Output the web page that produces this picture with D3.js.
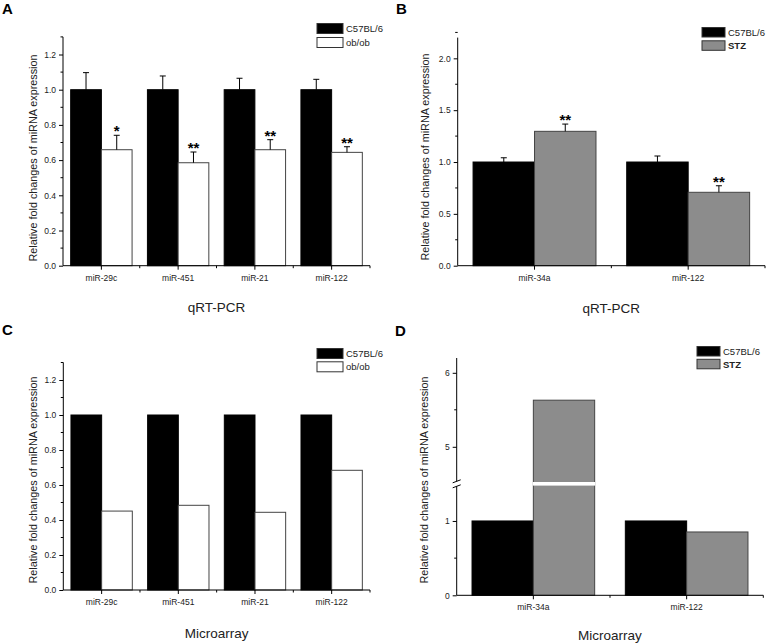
<!DOCTYPE html>
<html lang="en">
<head>
<meta charset="UTF-8">
<title>miRNA expression</title>
<script src="https://d3js.org/d3.v7.min.js"></script>
<style>
  body { margin: 0; background: #fff; }
  svg text { font-family: "Liberation Sans", Arial, sans-serif; fill: #222; }
</style>
</head>
<body>
<script>
// panel A / C : ob/ob vs C57BL/6
const catsAC = ["miR-29c", "miR-451", "miR-21", "miR-122"];
const ctrlA = [1, 1, 1, 1];
const ctrlErrA = [0.097, 0.078, 0.065, 0.059];
const obA = [0.659, 0.585, 0.659, 0.644];
const obErrA = [0.082, 0.061, 0.057, 0.032];
const starsA = ["*", "**", "**", "**"];
const ctrlC = [1, 1, 1, 1];
const obC = [0.451, 0.484, 0.444, 0.684];

// panel B / D : STZ vs C57BL/6
const catsBD = ["miR-34a", "miR-122"];
const ctrlB = [1, 1];
const ctrlErrB = [0.041, 0.058];
const stzB = [1.296, 0.708];
const stzErrB = [0.07, 0.063];
const starsB = ["**", "**"];
const ctrlD = [1, 1];
const stzD = [5.63, 0.852];

const ticksAC = [0, 0.2, 0.4, 0.6, 0.8, 1.0, 1.2];
const ticksB = [0, 0.5, 1.0, 1.5, 2.0];
const ticksDlow = [0, 1];
const ticksDhigh = [5, 6];

const svg = d3.select("body").append("svg")
    .attr("width", 771).attr("height", 644);

function panel(p) {
  const g = svg.append("g");
  const x = d3.scaleBand().domain(p.cats).range([p.x0, p.x1]).paddingInner(0).paddingOuter(0);
  const bw = x.bandwidth() * 0.4;
  const y = p.y;

  // panel letter
  g.append("text").attr("x", p.letterX).attr("y", p.letterY)
      .attr("font-size", 15).attr("font-weight", "bold").style("fill", "#000").text(p.letter);

  // bars
  const series = [
    {vals: p.ctrl, err: p.ctrlErr, fill: "#000", stroke: "#000", off: -bw},
    {vals: p.trt, err: p.trtErr, fill: p.trtFill, stroke: "#444", off: 0}
  ];
  series.forEach(s => {
    p.cats.forEach((c, i) => {
      const cx = x(c) + x.bandwidth() / 2 + s.off;
      const v = s.vals[i];
      g.append("rect")
          .attr("x", cx).attr("width", bw)
          .attr("y", y(v)).attr("height", p.y0 - y(v))
          .attr("fill", s.fill).attr("stroke", s.stroke).attr("stroke-width", 1);
      if (s.err) {
        const top = y(v + s.err[i]);
        const mx = cx + bw / 2;
        g.append("line").attr("x1", mx).attr("x2", mx).attr("y1", y(v)).attr("y2", top)
            .attr("stroke", "#000").attr("stroke-width", 1);
        g.append("line").attr("x1", mx - 3).attr("x2", mx + 3).attr("y1", top).attr("y2", top)
            .attr("stroke", "#000").attr("stroke-width", 1);
      }
    });
  });

  // significance stars
  if (p.stars) {
    p.cats.forEach((c, i) => {
      const mx = x(c) + x.bandwidth() / 2 + bw / 2;
      g.append("text").attr("x", mx).attr("y", y(p.trt[i] + p.trtErr[i]) + 1)
          .attr("text-anchor", "middle").attr("font-size", 15).attr("font-weight", "bold")
          .style("fill", "#000").text(p.stars[i]);
    });
  }

  // x axis
  g.append("line").attr("x1", p.x0).attr("x2", p.x1).attr("y1", p.y0).attr("y2", p.y0)
      .attr("stroke", "#000");
  x.domain().forEach((c, i) => {
    const mx = x(c) + x.bandwidth() / 2;
    g.append("line").attr("x1", mx).attr("x2", mx).attr("y1", p.y0).attr("y2", p.y0 + 4).attr("stroke", "#000");
    g.append("line").attr("x1", x(c) + x.bandwidth()).attr("x2", x(c) + x.bandwidth())
        .attr("y1", p.y0).attr("y2", p.y0 + 2.5).attr("stroke", "#000");
    g.append("text").attr("x", mx).attr("y", p.y0 + 15).attr("text-anchor", "middle")
        .attr("font-size", 8.5).text(c);
  });

  // y axis
  p.yAxes.forEach(a => {
    const ax = d3.axisLeft(a.scale).tickValues(a.ticks).tickSize(4).tickPadding(3)
        .tickFormat(a.fmt);
    const ag = g.append("g").attr("transform", `translate(${p.x0},0)`).call(ax);
    ag.select(".domain").remove();
    ag.selectAll("text").attr("font-size", 8.5).style("font-family", "Liberation Sans, Arial, sans-serif").style("fill", "#222");
    a.minor.forEach(m => {
      g.append("line").attr("x1", p.x0 - 2.5).attr("x2", p.x0).attr("y1", a.scale(m)).attr("y2", a.scale(m))
          .attr("stroke", "#000");
    });
    g.append("line").attr("x1", p.x0).attr("x2", p.x0)
        .attr("y1", a.scale.range()[0]).attr("y2", a.scale.range()[1]).attr("stroke", "#000");
  });

  // y label
  g.append("text")
      .attr("transform", `translate(${p.ylabX},${p.ylabY}) rotate(-90)`)
      .attr("text-anchor", "middle").attr("font-size", 10.8)
      .text("Relative fold changes of miRNA expression");

  // x title
  g.append("text").attr("x", (p.x0 + p.x1) / 2 + p.titleDx).attr("y", p.titleY)
      .attr("text-anchor", "middle").attr("font-size", 13.5).text(p.title);

  // legend
  p.legend.forEach((l, i) => {
    const ly = p.legY + i * p.legStep;
    g.append("rect").attr("x", p.legX).attr("y", ly).attr("width", p.legW).attr("height", p.legH)
        .attr("fill", l.fill).attr("stroke", "#333");
    g.append("text").attr("x", p.legX + p.legW + 3).attr("y", ly + p.legH / 2 + 3.5)
        .attr("font-size", 9.5).attr("font-weight", l.bold ? "bold" : "normal").text(l.name);
  });
  return {g, x, bw};
}

function minorTicks(lo, hi, step) {
  return d3.range(Math.round((hi - lo) / step) + 1).map(i => lo + i * step);
}

// A
const yA = d3.scaleLinear().domain([0, 1.3]).range([265.7, 36.9]);
panel({
  letter: "A", letterX: 2, letterY: 14,
  cats: catsAC, x0: 63, x1: 370, y0: 265.7, y: yA,
  ctrl: ctrlA, ctrlErr: ctrlErrA, trt: obA, trtErr: obErrA, trtFill: "#fff", stars: starsA,
  yAxes: [{scale: yA, ticks: ticksAC, fmt: d3.format(".1f"), minor: minorTicks(0.1, 1.3, 0.2)}],
  ylabX: 37, ylabY: 158,
  title: "qRT-PCR", titleDx: 0, titleY: 312,
  legend: [{name: "C57BL/6", fill: "#000"}, {name: "ob/ob", fill: "#fff"}],
  legX: 317, legY: 23.5, legW: 26, legH: 10, legStep: 14
});

// B
const yB = d3.scaleLinear().domain([0, 2.2]).range([265.7, 37.6]);
panel({
  letter: "B", letterX: 396, letterY: 14,
  cats: catsBD, x0: 457.7, x1: 765, y0: 265.7, y: yB,
  ctrl: ctrlB, ctrlErr: ctrlErrB, trt: stzB, trtErr: stzErrB, trtFill: "#8c8c8c", stars: starsB,
  yAxes: [{scale: yB, ticks: ticksB, fmt: d3.format(".1f"), minor: minorTicks(0.25, 2.2, 0.5)}],
  ylabX: 429, ylabY: 157,
  title: "qRT-PCR", titleDx: 0, titleY: 313,
  legend: [{name: "C57BL/6", fill: "#000"}, {name: "STZ", fill: "#8c8c8c", bold: true}],
  legX: 702, legY: 27.5, legW: 23, legH: 9.5, legStep: 13.3
});

// C
const yC = d3.scaleLinear().domain([0, 1.3]).range([590, 362.5]);
panel({
  letter: "C", letterX: 2, letterY: 335,
  cats: catsAC, x0: 63.3, x1: 370, y0: 590, y: yC,
  ctrl: ctrlC, ctrlErr: null, trt: obC, trtErr: null, trtFill: "#fff", stars: null,
  yAxes: [{scale: yC, ticks: ticksAC, fmt: d3.format(".1f"), minor: minorTicks(0.1, 1.3, 0.2)}],
  ylabX: 37, ylabY: 480,
  title: "Microarray", titleDx: 0, titleY: 638,
  legend: [{name: "C57BL/6", fill: "#000"}, {name: "ob/ob", fill: "#fff"}],
  legX: 317, legY: 348.5, legW: 26, legH: 10, legStep: 13.3
});

// D (broken axis)
const yDlow = d3.scaleLinear().domain([0, 1.5]).range([595.3, 483.8]);
const yDhigh = d3.scaleLinear().domain([4.5, 6.2]).range([483.8, 358]);
const yD = v => v <= 1.5 ? yDlow(v) : yDhigh(Math.max(v, 4.5));
const pd = panel({
  letter: "D", letterX: 395, letterY: 336,
  cats: catsBD, x0: 456.7, x1: 763.3, y0: 595.3, y: yD,
  ctrl: ctrlD, ctrlErr: null, trt: stzD, trtErr: null, trtFill: "#8c8c8c", stars: null,
  yAxes: [
    {scale: yDlow, ticks: ticksDlow, fmt: d3.format("d"), minor: [0.5]},
    {scale: yDhigh, ticks: ticksDhigh, fmt: d3.format("d"), minor: [5.5]}
  ],
  ylabX: 428, ylabY: 480,
  title: "Microarray", titleDx: 0, titleY: 640,
  legend: [{name: "C57BL/6", fill: "#000"}, {name: "STZ", fill: "#8c8c8c", bold: true}],
  legX: 697, legY: 346.5, legW: 23, legH: 9.5, legStep: 12.8
});

// break: white gap through bars that cross it, and // marks on the axis
const breakY = yDlow(1.5);
stzD.forEach((v, i) => {
  if (v > 1.5) {
    const bx = pd.x(catsBD[i]) + pd.x.bandwidth() / 2;
    pd.g.append("rect").attr("x", bx - 0.5).attr("width", pd.bw + 1)
        .attr("y", breakY - 1.8).attr("height", 3.6).attr("fill", "#fff");
  }
});
pd.g.append("rect").attr("x", 454.7).attr("y", breakY - 2.5).attr("width", 4).attr("height", 5).attr("fill", "#fff");
[-2.5, 2.5].forEach(d => {
  pd.g.append("line").attr("x1", 452.7).attr("x2", 460.7)
      .attr("y1", breakY + d + 1.5).attr("y2", breakY + d - 1.5).attr("stroke", "#000");
});
</script>
</body>
</html>
